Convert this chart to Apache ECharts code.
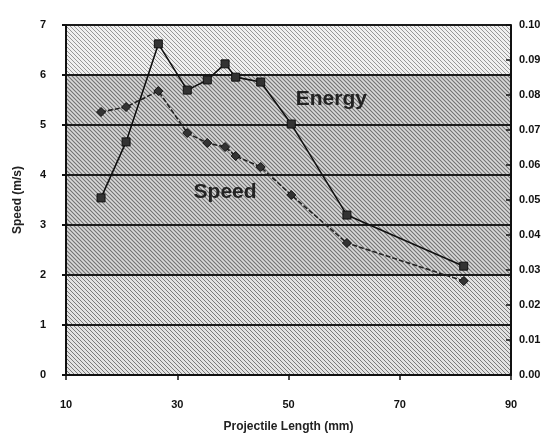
<!DOCTYPE html>
<html><head><meta charset="utf-8">
<script src="https://cdn.jsdelivr.net/npm/echarts@6/dist/echarts.min.js"></script>
<style>html,body{margin:0;padding:0;background:#fff}#c{width:554px;height:441px}</style>
</head><body><div id="c"></div>
<script>
// Projectile length (mm)
const lengthMM = [16.3, 20.8, 26.6, 31.8, 35.4, 38.6, 40.5, 45.0, 50.5, 60.5, 81.5];
// Speed (m/s), left axis
const speedVals = [5.26, 5.36, 5.68, 4.84, 4.64, 4.56, 4.38, 4.16, 3.60, 2.64, 1.88];
// Energy, right axis
const energyVals = [0.0506, 0.0666, 0.0946, 0.0814, 0.0843, 0.0889, 0.0851, 0.0837, 0.0717, 0.0457, 0.0311];
const xTicks = [10, 30, 50, 70, 90];
const leftTicks = [0, 1, 2, 3, 4, 5, 6, 7];
const rightTicks = ['0.00','0.01','0.02','0.03','0.04','0.05','0.06','0.07','0.08','0.09','0.10'];
// annotation text anchors (data coordinates)
const energyLabelAt = [57.7, 0.0789];
const speedLabelAt = [38.6, 3.66];

function hatch(bg, fg, w) {
  const c = document.createElement('canvas');
  c.width = 4; c.height = 4;
  const g = c.getContext('2d');
  g.fillStyle = bg; g.fillRect(0, 0, 4, 4);
  g.strokeStyle = fg; g.lineWidth = w;
  g.beginPath();
  g.moveTo(-1, -1); g.lineTo(5, 5);
  g.moveTo(-1, 3); g.lineTo(1, 5);
  g.moveTo(3, -1); g.lineTo(5, 1);
  g.stroke();
  return { image: c, repeat: 'repeat' };
}
const light = hatch('#f0f0f0', '#8c8c8c', 0.9);
const mid = hatch('#e2e2e2', '#7a7a7a', 1);
const dark = hatch('#d8d8d8', '#707070', 1.05);

const chart = echarts.init(document.getElementById('c'), null, {renderer: 'canvas'});
const font = 'Liberation Sans';
const annot = { fontFamily: font, fontSize: 21, fontWeight: 'bold', color: '#222', position: 'inside' };
chart.setOption({
  animation: false,
  backgroundColor: '#fff',
  grid: { left: 66, right: 43, top: 25, bottom: 66, show: false },
  xAxis: {
    type: 'value', min: 10, max: 90, interval: 20,
    name: 'Projectile Length (mm)', nameLocation: 'middle', nameGap: 46,
    nameTextStyle: { fontFamily: font, fontSize: 12, fontWeight: 'bold', color: '#222' },
    axisLine: { show: true, lineStyle: { color: '#111', width: 2 } },
    axisTick: { show: true, length: 5, lineStyle: { color: '#111', width: 1.5 } },
    axisLabel: { margin: 24, fontFamily: font, fontSize: 11, fontWeight: 'bold', color: '#111',
      formatter: v => xTicks.includes(v) ? String(v) : '' },
    splitLine: { show: false }
  },
  yAxis: [{
    type: 'value', min: 0, max: 7, interval: 1, position: 'left',
    name: 'Speed (m/s)', nameLocation: 'middle', nameGap: 42, nameRotate: 90,
    nameTextStyle: { fontFamily: font, fontSize: 12, fontWeight: 'bold', color: '#222' },
    axisLine: { show: true, lineStyle: { color: '#111', width: 2 } },
    axisTick: { show: true, length: 4, lineStyle: { color: '#111', width: 2 } },
    axisLabel: { margin: 20, fontFamily: font, fontSize: 11, fontWeight: 'bold', color: '#111',
      formatter: v => leftTicks.includes(v) ? String(v) : '' },
    splitLine: { show: true, lineStyle: { color: '#1a1a1a', width: 2 } },
    splitArea: { show: true, areaStyle: { color: [mid, mid, dark, dark, dark, dark, light] } }
  }, {
    type: 'value', min: 0, max: 0.1, interval: 0.01, position: 'right',
    axisLine: { show: true, lineStyle: { color: '#111', width: 2 } },
    axisTick: { show: true, inside: true, length: 5, lineStyle: { color: '#111', width: 1.5 } },
    axisLabel: { margin: 8, fontFamily: font, fontSize: 11, fontWeight: 'bold', color: '#111',
      formatter: v => rightTicks[Math.round(v * 100)] },
    splitLine: { show: false }
  }],
  series: [{
    name: 'Energy', type: 'line', yAxisIndex: 1,
    data: lengthMM.map((x, i) => [x, energyVals[i]]),
    symbol: 'rect', symbolSize: 8,
    itemStyle: { color: '#333', borderColor: '#111', borderWidth: 1 },
    lineStyle: { color: '#111', width: 1.6 },
    markPoint: {
      symbol: 'circle', symbolSize: 1,
      itemStyle: { color: 'rgba(0,0,0,0)' },
      data: [{ name: 'Energy', coord: energyLabelAt }],
      label: Object.assign({ show: true, formatter: 'Energy' }, annot)
    },
    z: 3
  }, {
    name: 'Speed', type: 'line', yAxisIndex: 0,
    data: lengthMM.map((x, i) => [x, speedVals[i]]),
    symbol: 'diamond', symbolSize: 9,
    itemStyle: { color: '#333', borderColor: '#111', borderWidth: 1 },
    lineStyle: { color: '#222', width: 1.6, type: [5, 2] },
    markPoint: {
      symbol: 'circle', symbolSize: 1,
      itemStyle: { color: 'rgba(0,0,0,0)' },
      data: [{ name: 'Speed', coord: speedLabelAt }],
      label: Object.assign({ show: true, formatter: 'Speed' }, annot)
    },
    z: 3
  }]
});
</script></body></html>
